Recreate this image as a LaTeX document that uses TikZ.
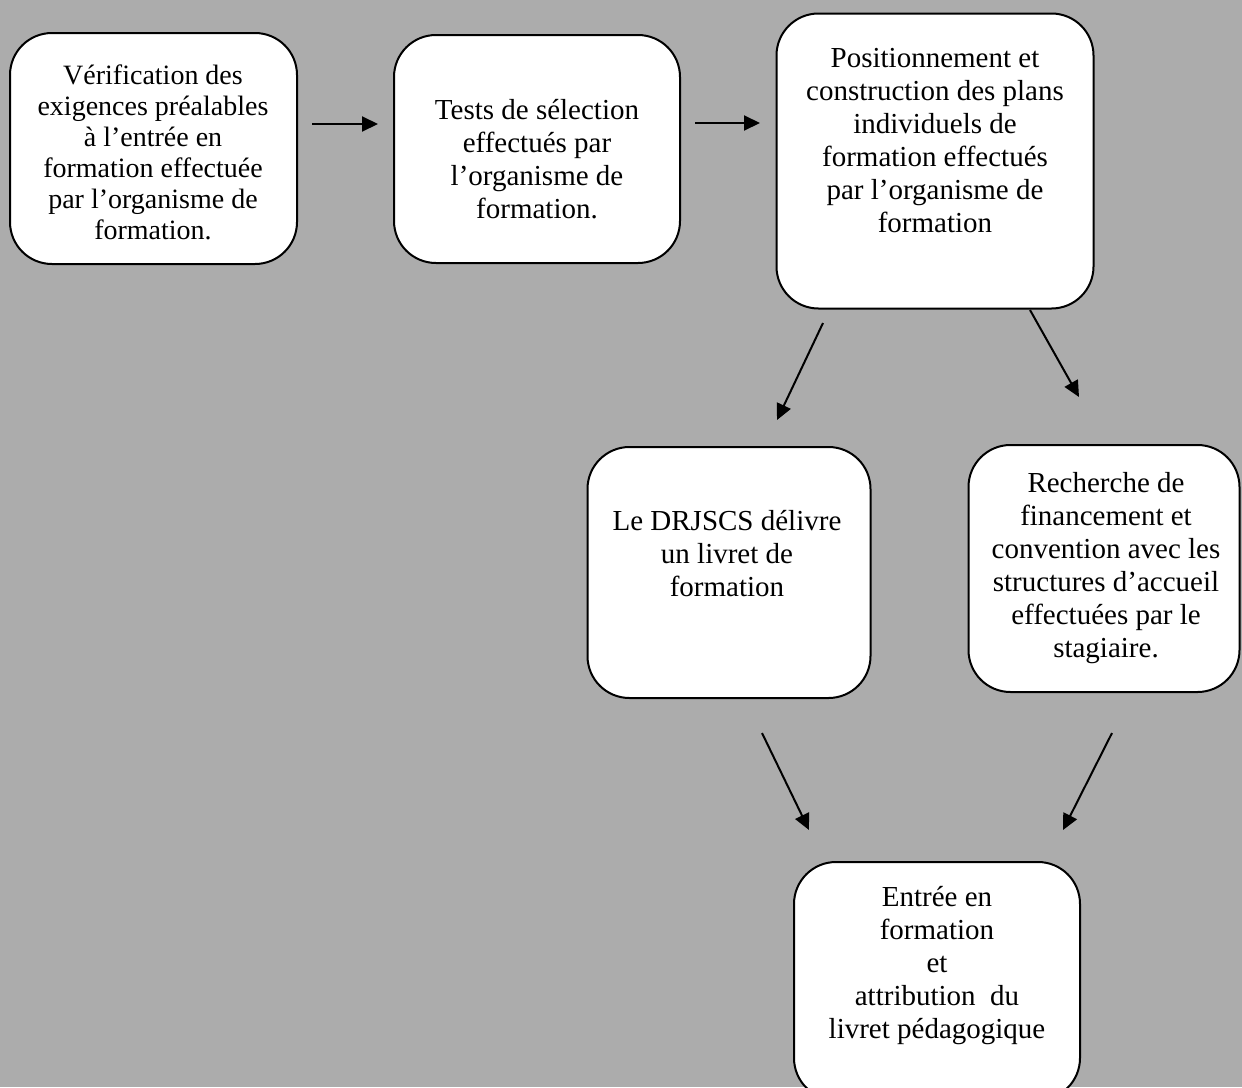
\documentclass[tikz,border=0pt]{standalone}
\usepackage{fontspec}
\setmainfont{Liberation Serif}
\usetikzlibrary{arrows.meta}
\definecolor{bggray}{RGB}{172,172,172}
\tikzset{
  boxshape/.style={draw=black, line width=1pt, fill=white, rounded corners=21pt, inner sep=0pt},
  boxtext/.style={align=center, inner sep=0pt, font=\fontsize{14.5pt}{16.5pt}\selectfont},
  flowarrow/.style={draw=black, line width=1pt, -{Triangle[length=8pt,width=7.5pt]}}
}
\begin{document}
\begin{tikzpicture}[x=0.5pt,y=-0.5pt]
\fill[bggray] (0,0) rectangle (1242,1087);
\useasboundingbox (0,0) rectangle (1242,1087);
\begin{scope}
\clip (0,0) rectangle (1242,1087);
% boxes
\node[boxshape, minimum width=143.5pt, minimum height=115.5pt] (A) at (153.5,148.5) {};
\node[boxshape, minimum width=143pt, minimum height=114pt] (B) at (537,149) {};
\node[boxshape, minimum width=158.5pt, minimum height=147.5pt] (C) at (935,161) {};
\node[boxshape, minimum width=141.5pt, minimum height=125.5pt] (D) at (729,572.5) {};
\node[boxshape, minimum width=135.5pt, minimum height=123.5pt] (E) at (1104,568.5) {};
\node[boxshape, minimum width=143pt, minimum height=119pt] (F) at (937,981) {};
\end{scope}
% texts
\node[boxtext, font=\fontsize{14pt}{15.5pt}\selectfont] (tA) at (153,152) {Vérification des\\exigences préalables\\à l’entrée en\\formation effectuée\\par l’organisme de\\formation.};
\node[boxtext] (tB) at (537,159) {Tests de sélection\\effectués par\\l’organisme de\\formation.};
\node[boxtext] (tC) at (935,141) {Positionnement et\\construction des plans\\individuels de\\formation effectués\\par l’organisme de\\formation};
\node[boxtext] (tD) at (727,554) {Le DRJSCS délivre\\un livret de\\formation};
\node[boxtext] (tE) at (1106,568) {Recherche de\\financement et\\convention avec les\\structures d’accueil\\effectuées par le\\stagiaire.};
\node[boxtext] (tF) at (937,966) {Entrée en\\formation\\et\\attribution\ \ du\\livret pédagogique};
% arrow end points
\coordinate (a1s) at (312,124);
\coordinate (a1e) at (378,124);
\coordinate (a2s) at (695,123);
\coordinate (a2e) at (760,123);
\coordinate (a3s) at (823,323);
\coordinate (a3e) at (777,420);
\coordinate (a4s) at (1030,310);
\coordinate (a4e) at (1079,397);
\coordinate (a5s) at (762,733);
\coordinate (a5e) at (809,830);
\coordinate (a6s) at (1112,733);
\coordinate (a6e) at (1063,830);
\draw[flowarrow] (a1s) -- (a1e);
\draw[flowarrow] (a2s) -- (a2e);
\draw[flowarrow] (a3s) -- (a3e);
\draw[flowarrow] (a4s) -- (a4e);
\draw[flowarrow] (a5s) -- (a5e);
\draw[flowarrow] (a6s) -- (a6e);
\end{tikzpicture}
\end{document}
